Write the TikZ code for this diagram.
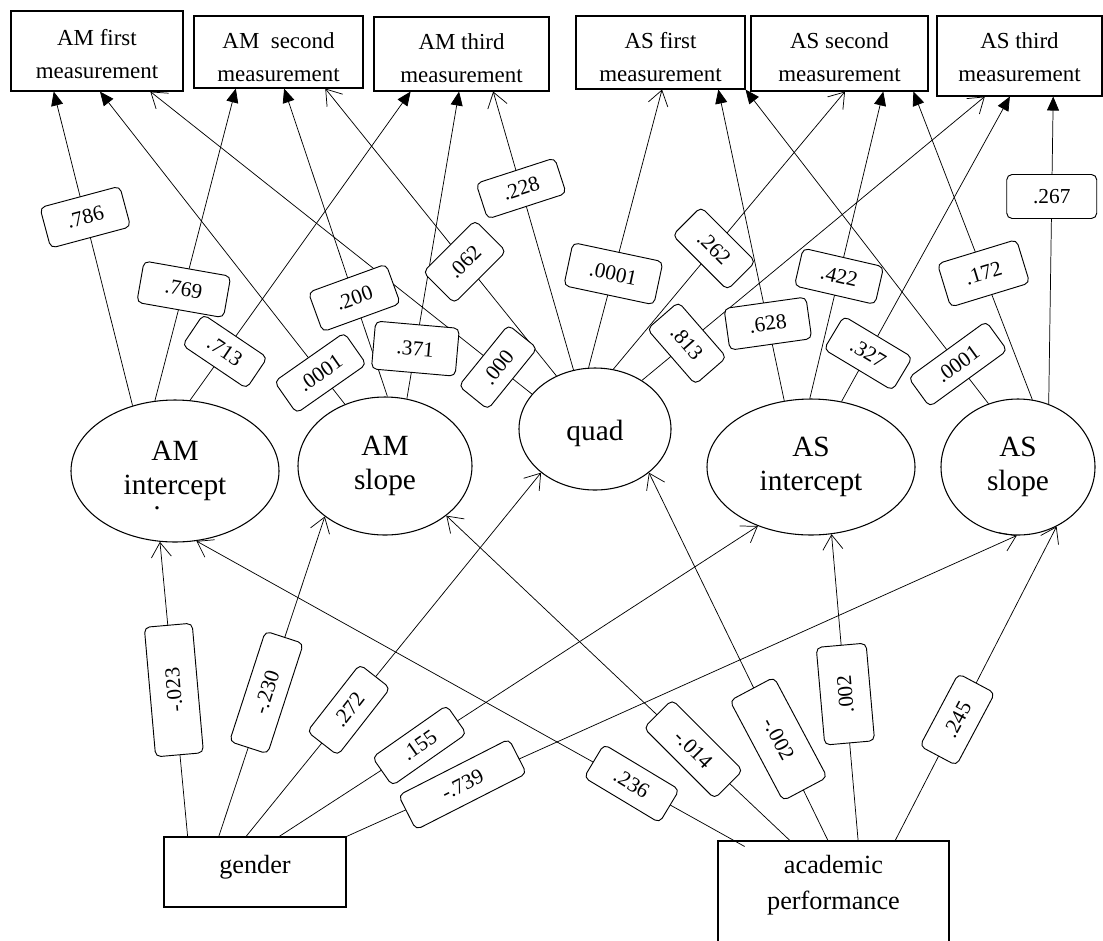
\documentclass[tikz,border=0pt]{standalone}
\usepackage{fontspec}
\setmainfont{Liberation Serif}
\usetikzlibrary{arrows.meta,shapes.geometric,calc}
\begin{document}
\begin{tikzpicture}[x=0.75pt,y=-0.75pt,
  mbox/.style={draw, line width=0.8pt, inner sep=0pt},
  mtext/.style={align=center, inner sep=0pt, font=\fontsize{17.2}{24.5}\selectfont},
  btext/.style={align=center, inner sep=0pt, font=\fontsize{19.7}{27}\selectfont},
  lat/.style={draw, ellipse, line width=0.8pt, inner sep=0pt, align=center, font=\fontsize{22}{25.5}\selectfont},
  lbl/.style={draw, fill=white, rounded corners=4pt, line width=0.7pt, inner sep=1pt,
              minimum width=62pt, minimum height=31.5pt, font=\fontsize{16}{18}\selectfont},
  conn/.style={line width=0.55pt},
  sol/.style={conn, -{Triangle[length=10.5pt,width=9pt]}},
  opn/.style={conn, -{Straight Barb[length=11pt,width=15pt]}},
]
\fill[white] (0,0) rectangle (1103,940);
\useasboundingbox (0,0) rectangle (1103,940);
\clip (0,0) rectangle (1103,940);

% measurement boxes
\node[mbox, minimum width=129pt, minimum height=60pt] (am1) at (97,51) {};
\node[mtext] (am1t) at (97,54) {AM first\\measurement};
\node[mbox, minimum width=126.75pt, minimum height=54pt] (am2) at (278.5,52) {};
\node[mtext] (am2t) at (278.5,57) {AM\ \ second\\measurement};
\node[mbox, minimum width=131.25pt, minimum height=55.5pt] (am3) at (461.5,54) {};
\node[mtext] (am3t) at (461.5,58) {AM third\\measurement};
\node[mbox, minimum width=126.75pt, minimum height=54.75pt] (as1) at (660.5,52.5) {};
\node[mtext] (as1t) at (660.5,57) {AS first\\measurement};
\node[mbox, minimum width=132.75pt, minimum height=56.25pt] (as2) at (839.5,53.5) {};
\node[mtext] (as2t) at (839.5,57) {AS second\\measurement};
\node[mbox, minimum width=123.75pt, minimum height=60pt] (as3) at (1019.5,56) {};
\node[mtext] (as3t) at (1019.5,57) {AS third\\measurement};

% latent variables
\node[lat, minimum width=156pt, minimum height=106.5pt] (ami) at (175,471) {AM\\intercept};
\node[inner sep=0pt, font=\fontsize{21}{21}\selectfont] (amidot) at (157,508) {.};
\node[lat, minimum width=130.5pt, minimum height=103.5pt] (aml) at (385,466) {AM\\slope};
\node[lat, minimum width=114pt, minimum height=91.5pt] (qd) at (595,429) {\raisebox{-3pt}[\height][\depth]{quad}};
\node[lat, minimum width=156pt, minimum height=102pt] (asi) at (811,467) {AS\\intercept};
\node[lat, minimum width=115.5pt, minimum height=102pt] (asl) at (1018,467) {AS\\slope};

% predictors
\node[mbox, minimum width=136.5pt, minimum height=52.5pt] (gen) at (255,872) {};
\node[btext] (gent) at (255,867) {gender};
\node[mbox, minimum width=173.25pt, minimum height=81.75pt] (acad) at (833.5,895.5) {};
\node[btext] (acadt) at (833.5,885) {academic\\performance};

% loadings
\draw[sol] (ami.123) -- coordinate[pos=0.60] (c1) ($(am1.south west)!0.25!(am1.south east)$);
\draw[sol] (ami.106.5) -- coordinate[pos=0.357] (c2) ($(am2.south west)!0.249!(am2.south east)$);
\draw[sol] (ami.78.5) -- coordinate[pos=0.158] (c3) ($(am3.south west)!0.211!(am3.south east)$);
\draw[sol] (aml.123.5) -- coordinate[pos=0.10] (c4) ($(am1.south west)!0.517!(am1.south east)$);
\draw[sol] (aml.88) -- coordinate[pos=0.32] (c5) ($(am2.south west)!0.533!(am2.south east)$);
\draw[sol] (aml.72) -- coordinate[pos=0.163] (c6) ($(am3.south west)!0.486!(am3.south east)$);
\draw[opn] (qd.151) -- coordinate[pos=0.089] (c7) ($(am1.south west)!0.808!(am1.south east)$);
\draw[opn] (qd.126.7) -- coordinate[pos=0.397] (c8) ($(am2.south west)!0.775!(am2.south east)$);
\draw[opn] (qd.110.4) -- coordinate[pos=0.652] (c9) ($(am3.south west)!0.68!(am3.south east)$);
\draw[opn] (qd.96.4) -- coordinate[pos=0.338] (c10) ($(as1.south west)!0.509!(as1.south east)$);
\draw[opn] (qd.73.8) -- coordinate[pos=0.435] (c11) ($(as2.south west)!0.531!(as2.south east)$);
\draw[opn] (qd.46.7) -- coordinate[pos=0.131] (c12) ($(as3.south west)!0.291!(as3.south east)$);
\draw[sol] (asi.112) -- coordinate[pos=0.248] (c13) ($(as1.south west)!0.84!(as1.south east)$);
\draw[sol] (asi.91.7) -- coordinate[pos=0.398] (c14) ($(as2.south west)!0.746!(as2.south east)$);
\draw[sol] (asi.65.8) -- coordinate[pos=0.158] (c15) ($(as3.south west)!0.442!(as3.south east)$);
\draw[sol] (asl.115.8) -- coordinate[pos=0.126] (c16) (as1.south east);
\draw[sol] (asl.78.2) -- coordinate[pos=0.41] (c17) ($(as2.south west)!0.915!(as2.south east)$);
\draw[sol] (asl.64.5) -- coordinate[pos=0.675] (c18) ($(as3.south west)!0.703!(as3.south east)$);

% regressions
\draw[opn] ($(gen.north west)!0.132!(gen.north east)$) -- coordinate[pos=0.497] (c19) (ami.-102.5);
\draw[opn] ($(gen.north west)!0.302!(gen.north east)$) -- coordinate[pos=0.45] (c20) (aml.-140.6);
\draw[opn] ($(gen.north west)!0.451!(gen.north east)$) -- coordinate[pos=0.348] (c21) (qd.-141.5);
\draw[opn] ($(gen.north west)!0.632!(gen.north east)$) -- coordinate[pos=0.293] (c22) (asi.-132.9);
\draw[opn] (gen.north east) -- coordinate[pos=0.173] (c23) (asl.-91.6);
\draw[opn] ($(acad.north west)!0.117!(acad.north east)+(0,6)$) -- coordinate[pos=0.206] (c24) (ami.-73);
\draw[opn] ($(acad.north west)!0.312!(acad.north east)$) -- coordinate[pos=0.281] (c25) (aml.-39);
\draw[opn] ($(acad.north west)!0.476!(acad.north east)$) -- coordinate[pos=0.276] (c26) (qd.-39);
\draw[opn] ($(acad.north west)!0.606!(acad.north east)$) -- coordinate[pos=0.478] (c27) (asi.-73.3);
\draw[opn] ($(acad.north west)!0.766!(acad.north east)$) -- coordinate[pos=0.385] (c28) (asl.-57);

% labels
\node[lbl, rotate=15] (l1) at (c1) {.786};
\node[lbl, rotate=-10, minimum width=66pt] (l2) at (c2) {.769};
\node[lbl, rotate=-34, minimum width=58pt, minimum height=28pt] (l3) at (c3) {.713};
\node[lbl, rotate=35, minimum width=64pt, minimum height=29pt] (l4) at (c4) {.0001};
\node[lbl, rotate=20] (l5) at (c5) {.200};
\node[lbl, rotate=-5, minimum width=63pt, minimum height=36pt] (l6) at (c6) {.371};
\node[lbl, rotate=51, minimum width=59pt, minimum height=28pt] (l7) at (c7) {.000};
\node[lbl, rotate=45, minimum width=55pt, minimum height=33pt] (l8) at (c8) {.062};
\node[lbl, rotate=18, minimum height=28pt] (l9) at (c9) {.228};
\node[lbl, rotate=-12, minimum width=69pt, minimum height=33pt] (l10) at (c10) {.0001};
\node[lbl, rotate=-45, minimum width=58pt, minimum height=30pt] (l11) at (c11) {.262};
\node[lbl, rotate=-49, minimum width=55pt, minimum height=31pt] (l12) at (c12) {.813};
\node[lbl, rotate=8] (l13) at (c13) {.628};
\node[lbl, rotate=-13, minimum height=29pt] (l14) at (c14) {.422};
\node[lbl, rotate=-31, minimum width=60pt, minimum height=29pt] (l15) at (c15) {.327};
\node[lbl, rotate=36, minimum width=72pt, minimum height=27pt] (l16) at (c16) {.0001};
\node[lbl, rotate=17, minimum height=34pt] (l17) at (c17) {.172};
\node[lbl, rotate=0, minimum width=67.5pt, minimum height=33pt] (l18) at (c18) {.267};

\node[lbl, rotate=95, minimum width=97.5pt, minimum height=36pt] (l19) at (c19) {-.023};
\node[lbl, rotate=72, minimum width=87pt, minimum height=30pt] (l20) at (c20) {-.230};
\node[lbl, rotate=52, minimum width=64pt, minimum height=29pt] (l21) at (c21) {.272};
\node[lbl, rotate=35, minimum width=68pt, minimum height=26pt] (l22) at (c22) {.155};
\node[lbl, rotate=27, minimum width=93pt, minimum height=29pt] (l23) at (c23) {-.739};
\node[lbl, rotate=-31, minimum width=66pt, minimum height=29pt] (l24) at (c24) {.236};
\node[lbl, rotate=-45, minimum width=75pt, minimum height=30pt] (l25) at (c25) {-.014};
\node[lbl, rotate=-62, minimum width=85pt, minimum height=37.5pt] (l26) at (c26) {-.002};
\node[lbl, rotate=95, minimum width=73.5pt, minimum height=37.5pt] (l27) at (c27) {.002};
\node[lbl, rotate=62, minimum width=61.5pt, minimum height=31pt] (l28) at (c28) {.245};
\end{tikzpicture}
\end{document}
